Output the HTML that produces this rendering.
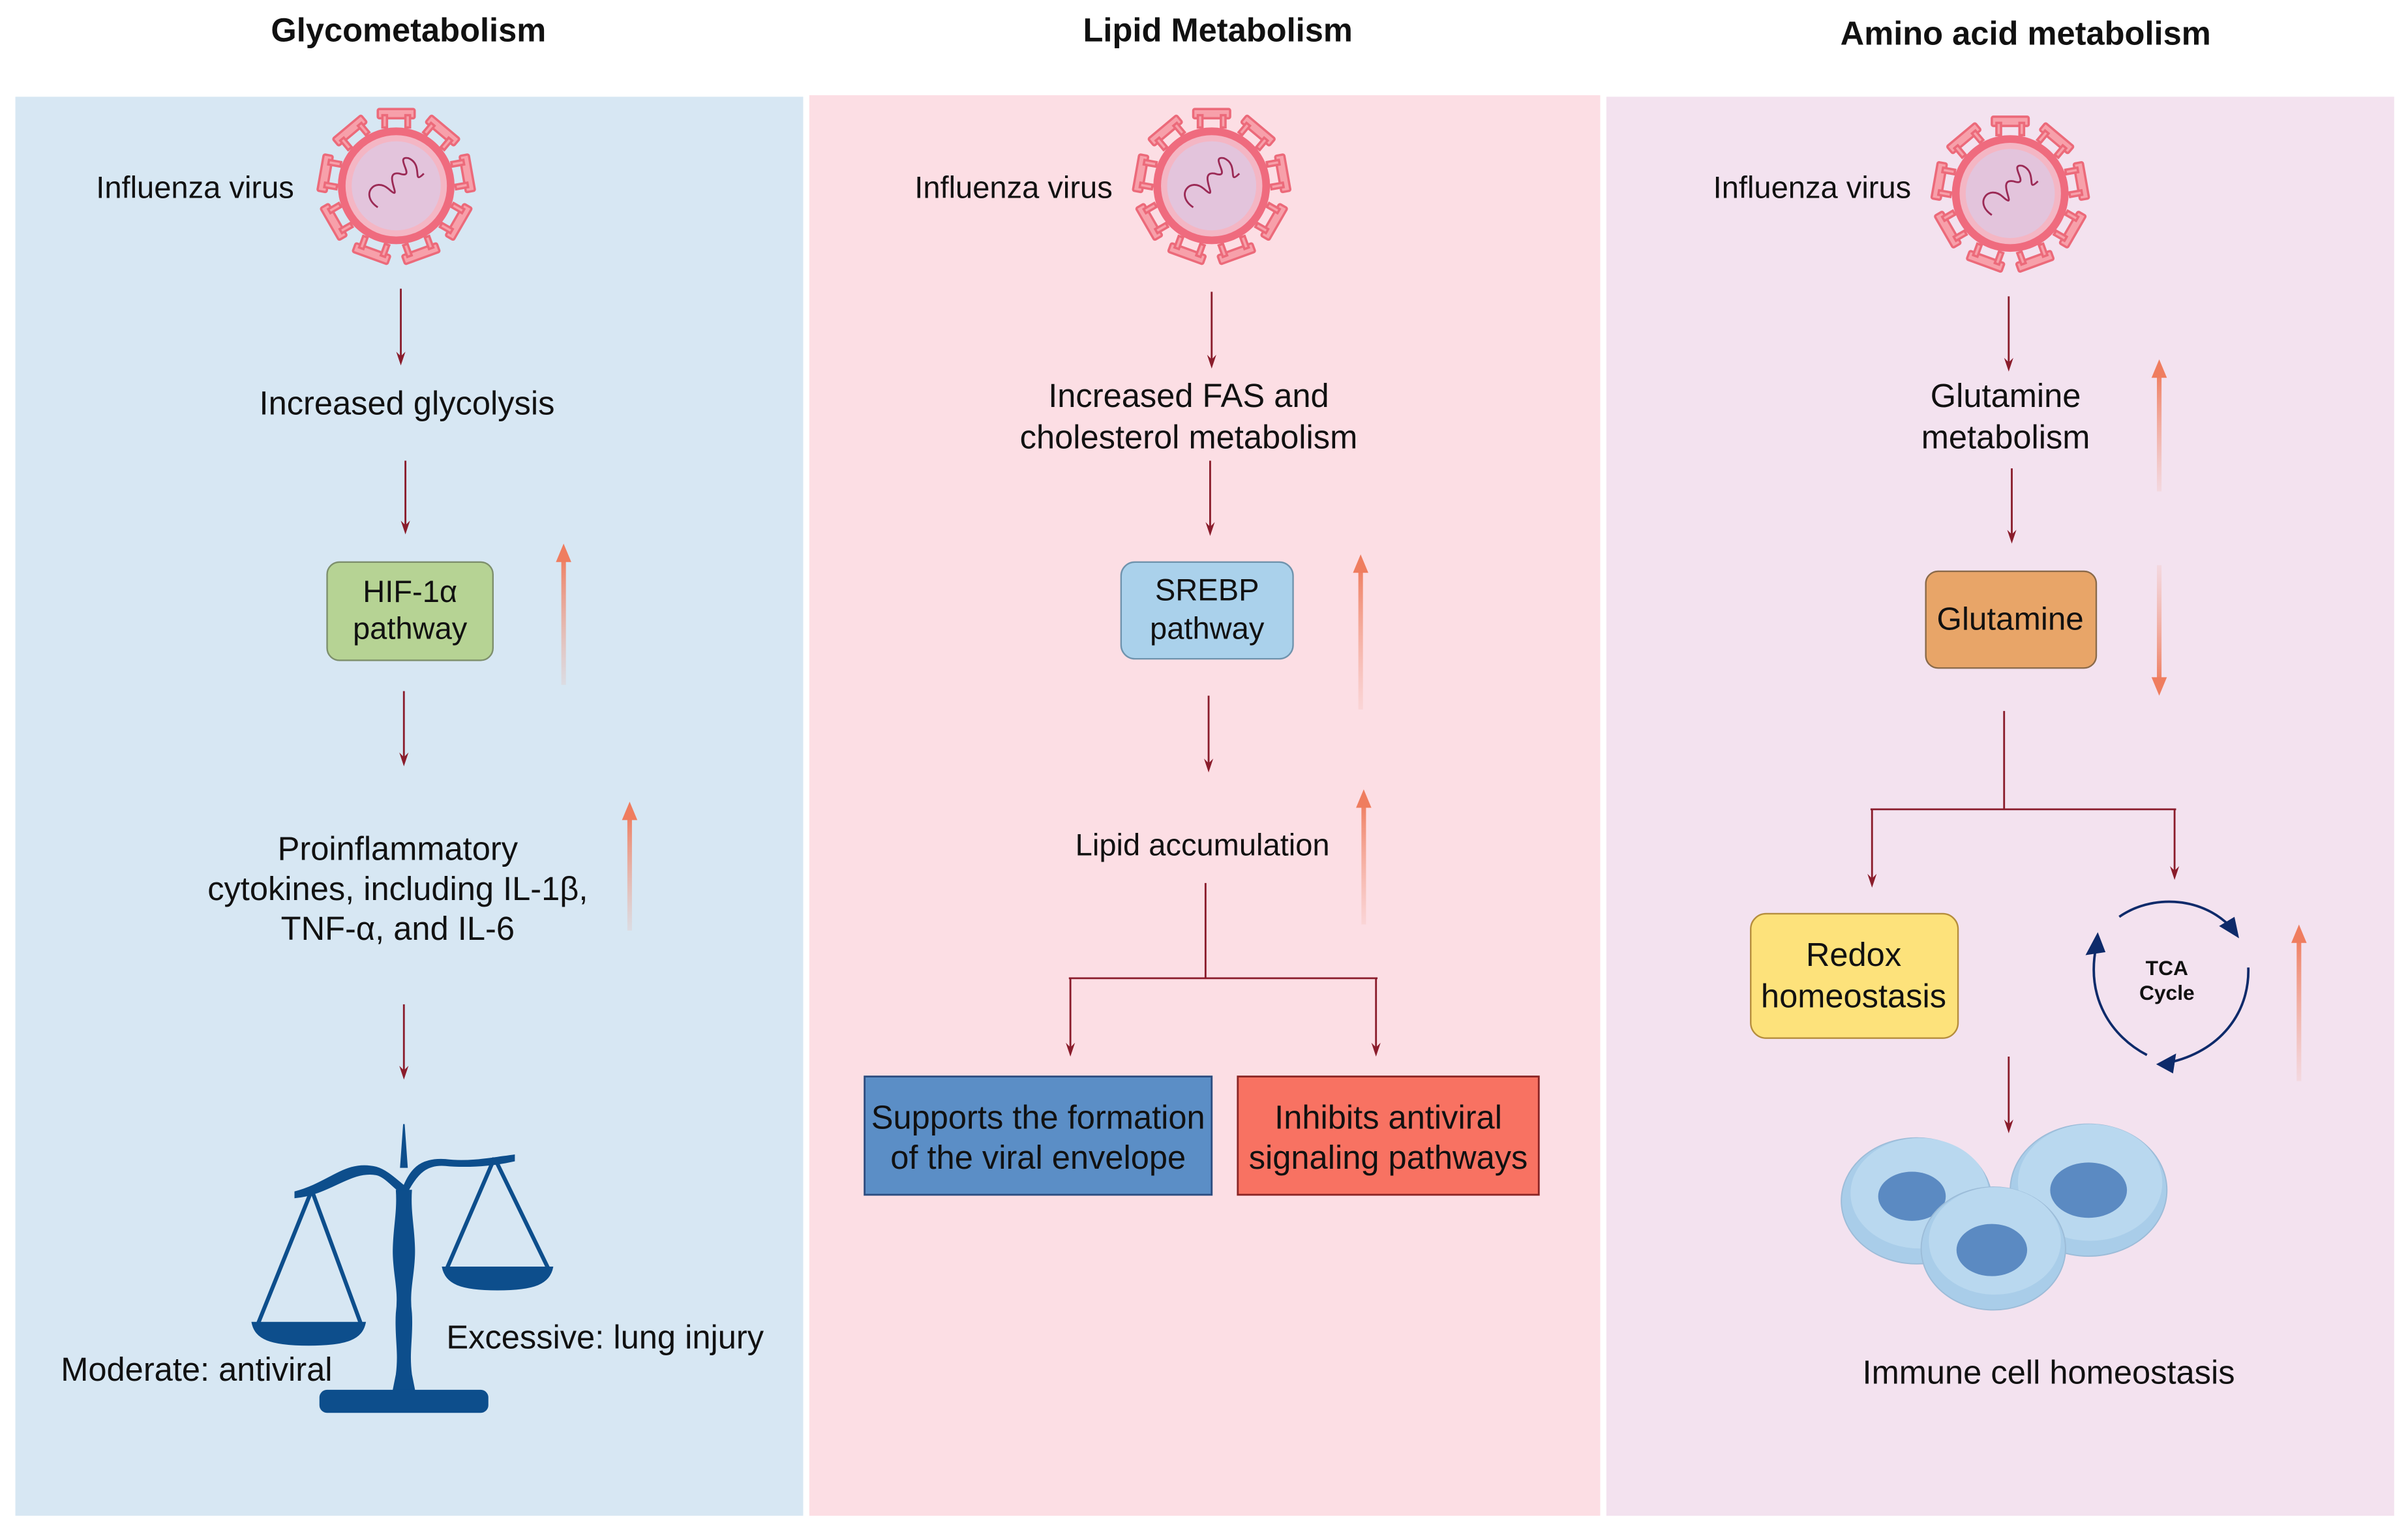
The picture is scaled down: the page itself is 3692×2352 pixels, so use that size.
<!DOCTYPE html>
<html><head><meta charset="utf-8"><style>
html,body{margin:0;padding:0;background:#fff}
svg{display:block}
text{font-family:"Liberation Sans",Arial,sans-serif;fill:#111}
</style></head><body>
<svg width="3692" height="2352" viewBox="0 0 1568 998.9" preserveAspectRatio="none" xmlns="http://www.w3.org/2000/svg">
<defs>
<linearGradient id="gu" x1="0" y1="1" x2="0" y2="0"><stop offset="0" stop-color="#f3a089" stop-opacity="0.15"/><stop offset="1" stop-color="#ef7d5f"/></linearGradient>
<linearGradient id="gd" x1="0" y1="0" x2="0" y2="1"><stop offset="0" stop-color="#f3a089" stop-opacity="0.15"/><stop offset="1" stop-color="#ef7d5f"/></linearGradient>
<g id="virus">
<g fill="#f7a0aa" stroke="#ec6a7a" stroke-width="1.5">
<g id="sp"><rect x="-12" y="-50" width="24" height="6" rx="1"/><rect x="-9" y="-46" width="3" height="8"/><rect x="6" y="-46" width="3" height="8"/></g>
<use href="#sp" transform="rotate(40)"/><use href="#sp" transform="rotate(80)"/><use href="#sp" transform="rotate(120)"/><use href="#sp" transform="rotate(160)"/><use href="#sp" transform="rotate(200)"/><use href="#sp" transform="rotate(240)"/><use href="#sp" transform="rotate(280)"/><use href="#sp" transform="rotate(320)"/>
</g>
<circle r="38" fill="#ef6b7e"/><circle r="33" fill="#f4b6c4"/><circle r="29" fill="#e3c4dc"/>
<path d="M-12,14 C-24,6 -14,-6 -5,2 C6,12 -10,-10 2,-8 C14,-4 -2,-20 8,-18 C18,-14 10,0 18,-8" fill="none" stroke="#9b2a55" stroke-width="1.2"/>
</g>
</defs>

<rect x="10" y="63" width="513" height="924" fill="#d7e7f3"/>
<rect x="527" y="62" width="515" height="925" fill="#fcdee4"/>
<rect x="1046" y="63" width="513" height="924" fill="#f3e2ef"/>

<text x="266" y="27" font-size="21.5" font-weight="bold" text-anchor="middle">Glycometabolism</text>
<text x="793" y="27" font-size="21.5" font-weight="bold" text-anchor="middle">Lipid Metabolism</text>
<text x="1319" y="29" font-size="21.5" font-weight="bold" text-anchor="middle">Amino acid metabolism</text>

<use href="#virus" transform="translate(258,121)"/>
<use href="#virus" transform="translate(789,121)"/>
<use href="#virus" transform="translate(1309,126)"/>
<text x="127" y="129" font-size="20" text-anchor="middle">Influenza virus</text>
<text x="660" y="129" font-size="20" text-anchor="middle">Influenza virus</text>
<text x="1180" y="129" font-size="20" text-anchor="middle">Influenza virus</text>

<g stroke="#8a1c2b" stroke-width="1.2" fill="none">
<line x1="261" y1="188" x2="261" y2="232"/>
<line x1="264" y1="300" x2="264" y2="342"/>
<line x1="263" y1="450" x2="263" y2="493"/>
<line x1="263" y1="654" x2="263" y2="697"/>
<line x1="789" y1="190" x2="789" y2="234"/>
<line x1="788" y1="300" x2="788" y2="343"/>
<line x1="787" y1="453" x2="787" y2="497"/>
<line x1="697" y1="637" x2="697" y2="682"/>
<line x1="896" y1="637" x2="896" y2="682"/>
<line x1="1308" y1="193" x2="1308" y2="236"/>
<line x1="1310" y1="305" x2="1310" y2="348"/>
<line x1="1219" y1="527" x2="1219" y2="572"/>
<line x1="1416" y1="527" x2="1416" y2="567"/>
<line x1="1308" y1="688" x2="1308" y2="732"/>
<path d="M785,575 V637 M696,637 H897"/>
<path d="M1305,463 V527 M1218,527 H1417"/>
</g>
<g fill="#8a1c2b">
<path d="M258,229 L261,238 L264,229 L261,232 Z"/>
<path d="M261,339 L264,348 L267,339 L264,342 Z"/>
<path d="M260,490 L263,499 L266,490 L263,493 Z"/>
<path d="M260,694 L263,703 L266,694 L263,697 Z"/>
<path d="M786,231 L789,240 L792,231 L789,234 Z"/>
<path d="M785,340 L788,349 L791,340 L788,343 Z"/>
<path d="M784,494 L787,503 L790,494 L787,497 Z"/>
<path d="M694,679 L697,688 L700,679 L697,682 Z"/>
<path d="M893,679 L896,688 L899,679 L896,682 Z"/>
<path d="M1305,233 L1308,242 L1311,233 L1308,236 Z"/>
<path d="M1307,345 L1310,354 L1313,345 L1310,348 Z"/>
<path d="M1216,569 L1219,578 L1222,569 L1219,572 Z"/>
<path d="M1413,564 L1416,573 L1419,564 L1416,567 Z"/>
<path d="M1305,729 L1308,738 L1311,729 L1308,732 Z"/>
</g>

<g>
<rect x="365.5" y="362" width="3" height="84" fill="url(#gu)"/>
<rect x="408.5" y="530" width="3" height="76" fill="url(#gu)"/>
<rect x="884.5" y="369" width="3" height="93" fill="url(#gu)"/>
<rect x="886.5" y="522" width="3" height="80" fill="url(#gu)"/>
<rect x="1404.5" y="242" width="3" height="78" fill="url(#gu)"/>
<rect x="1404.5" y="368" width="3" height="77" fill="url(#gd)"/>
<rect x="1495.5" y="610" width="3" height="94" fill="url(#gu)"/>
</g>
<g fill="#ef7d5f">
<path d="M362,366 L367,354 L372,366 Z"/>
<path d="M405,534 L410,522 L415,534 Z"/>
<path d="M881,373 L886,361 L891,373 Z"/>
<path d="M883,526 L888,514 L893,526 Z"/>
<path d="M1401,246 L1406,234 L1411,246 Z"/>
<path d="M1401,441 L1406,453 L1411,441 Z"/>
<path d="M1492,614 L1497,602 L1502,614 Z"/>
</g>

<text x="265" y="270" font-size="21.5" text-anchor="middle">Increased glycolysis</text>
<rect x="213" y="366" width="108" height="64" rx="8" fill="#b6d394" stroke="#7d8f6c" stroke-width="1"/>
<text x="267" y="392" font-size="20" text-anchor="middle">HIF-1α</text>
<text x="267" y="416" font-size="20" text-anchor="middle">pathway</text>
<text x="259" y="560" font-size="21.5" text-anchor="middle">Proinflammatory</text>
<text x="259" y="586" font-size="21.5" text-anchor="middle">cytokines, including IL-1β,</text>
<text x="259" y="612" font-size="21.5" text-anchor="middle">TNF-α, and IL-6</text>

<g fill="#0d4e8c" stroke="#0d4e8c">
<path d="M263,732 L265,760 L261,760 Z"/>
<path d="M192,776 C215,770 225,755 245,760 C252,762 258,768 263,772 C268,760 275,754 290,755 C305,757 320,754 335,752 L335,756 C318,760 300,760 290,759 C278,758 272,764 266,775 L260,776 C255,772 250,766 245,765 C228,762 215,778 192,780 Z" stroke-width="0.5"/>
<path d="M258,775 L268,775 C267,790 270,800 270,815 C270,830 266,840 268,855 C269,870 266,880 268,895 L270,905 L256,905 L258,895 C260,880 257,870 258,855 C260,840 256,830 256,815 C256,800 259,790 258,775 Z" stroke-width="0.5"/>
<rect x="208" y="905" width="110" height="15" rx="5" stroke="none"/>
<g fill="none" stroke-width="2.6">
<path d="M203,775 L168,862 M203,775 L235,862"/>
<path d="M322,754 L291,826 M322,754 L357,826"/>
</g>
<path d="M164,861 L238,861 C236,872 226,876 201,876 C176,876 166,872 164,861 Z" stroke-width="0.5"/>
<path d="M288,825 L360,825 C358,836 348,840 324,840 C300,840 290,836 288,825 Z" stroke-width="0.5"/>
</g>
<text x="128" y="899" font-size="21.5" text-anchor="middle">Moderate: antiviral</text>
<text x="394" y="878" font-size="21.5" text-anchor="middle">Excessive: lung injury</text>

<text x="774" y="265" font-size="21.5" text-anchor="middle">Increased FAS and</text>
<text x="774" y="292" font-size="21.5" text-anchor="middle">cholesterol metabolism</text>
<rect x="730" y="366" width="112" height="63" rx="9" fill="#aad1eb" stroke="#6f93ad" stroke-width="1"/>
<text x="786" y="391" font-size="20" text-anchor="middle">SREBP</text>
<text x="786" y="416" font-size="20" text-anchor="middle">pathway</text>
<text x="783" y="557" font-size="20" text-anchor="middle">Lipid accumulation</text>
<rect x="563" y="701" width="226" height="77" fill="#5b8ec6" stroke="#2d4d80" stroke-width="1.2"/>
<text x="676" y="735" font-size="21.5" text-anchor="middle">Supports the formation</text>
<text x="676" y="761" font-size="21.5" text-anchor="middle">of the viral envelope</text>
<rect x="806" y="701" width="196" height="77" fill="#f87262" stroke="#8b2525" stroke-width="1.2"/>
<text x="904" y="735" font-size="21.5" text-anchor="middle">Inhibits antiviral</text>
<text x="904" y="761" font-size="21.5" text-anchor="middle">signaling pathways</text>

<text x="1306" y="265" font-size="21.5" text-anchor="middle">Glutamine</text>
<text x="1306" y="292" font-size="21.5" text-anchor="middle">metabolism</text>
<rect x="1254" y="372" width="111" height="63" rx="8" fill="#e8a568" stroke="#8a6a4a" stroke-width="1"/>
<text x="1309" y="410" font-size="21" text-anchor="middle">Glutamine</text>
<rect x="1140" y="595" width="135" height="81" rx="10" fill="#fde27b" stroke="#b58d3c" stroke-width="1"/>
<text x="1207" y="629" font-size="21.5" text-anchor="middle">Redox</text>
<text x="1207" y="656" font-size="21.5" text-anchor="middle">homeostasis</text>
<g fill="none" stroke="#0d2a6a" stroke-width="1.6">
<path d="M1380,597 C1400,583 1432,583 1452,603"/>
<path d="M1464,630 C1465,660 1445,685 1412,692"/>
<path d="M1398,687 C1375,675 1358,650 1365,616"/>
</g>
<g fill="#0d2a6a">
<path d="M1458,611 L1445,603 L1455,597 Z"/>
<path d="M1404,693 L1417,686 L1415,699 Z"/>
<path d="M1366,607 L1358,622 L1371,620 Z"/>
</g>
<text x="1411" y="635" font-size="13.5" font-weight="bold" text-anchor="middle">TCA</text>
<text x="1411" y="651" font-size="13.5" font-weight="bold" text-anchor="middle">Cycle</text>
<g stroke="#9cbcd8" stroke-width="0.8">
<ellipse cx="1248" cy="782" rx="49" ry="41" fill="#a9cde9"/>
<ellipse cx="1250" cy="777" rx="45" ry="36" fill="#b9d8ef" stroke="none"/>
<ellipse cx="1245" cy="779" rx="22" ry="16" fill="#5b8ac2" stroke="none"/>
<ellipse cx="1360" cy="775" rx="51" ry="43" fill="#a9cde9"/>
<ellipse cx="1361" cy="770" rx="47" ry="38" fill="#b9d8ef" stroke="none"/>
<ellipse cx="1360" cy="775" rx="25" ry="18" fill="#5b8ac2" stroke="none"/>
<ellipse cx="1298" cy="813" rx="47" ry="40" fill="#a9cde9"/>
<ellipse cx="1299" cy="808" rx="43" ry="35" fill="#b9d8ef" stroke="none"/>
<ellipse cx="1297" cy="814" rx="23" ry="17" fill="#5b8ac2" stroke="none"/>
</g>
<text x="1334" y="901" font-size="21.5" text-anchor="middle">Immune cell homeostasis</text>
</svg>
</body></html>
